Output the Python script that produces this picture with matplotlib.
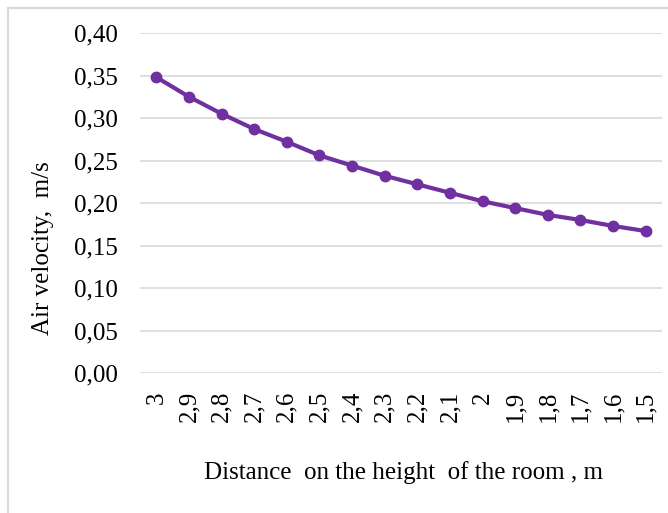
import matplotlib.pyplot as plt
from matplotlib.patches import Rectangle

# data
heights = ['3', '2,9', '2,8', '2,7', '2,6', '2,5', '2,4', '2,3', '2,2', '2,1', '2',
           '1,9', '1,8', '1,7', '1,6', '1,5']
velocity = [0.348, 0.325, 0.305, 0.287, 0.272, 0.256, 0.244, 0.232, 0.222, 0.212,
            0.202, 0.194, 0.186, 0.180, 0.173, 0.167]
yticks = [0.00, 0.05, 0.10, 0.15, 0.20, 0.25, 0.30, 0.35, 0.40]

plt.rcParams['font.family'] = ['Liberation Serif', 'DejaVu Serif']

fig = plt.figure(figsize=(6.68, 5.13), dpi=100)
ax = fig.add_axes([140 / 668, 1 - 373 / 513, 522 / 668, 340 / 513])

# outer chart border
fig.patches.append(Rectangle((8 / 668, -0.1), 1.2, 1 - 8 / 513 + 0.1, transform=fig.transFigure,
                             fill=False, edgecolor='#d9d9d9', lw=1.5))

x = range(len(heights))
ax.plot(x, velocity, color='#7030A0', lw=3, marker='o', ms=7.5, zorder=3)

ax.set_xlim(-0.5, len(heights) - 0.5)
ax.set_ylim(0, 0.40)
ax.set_yticks(yticks)
ax.set_yticklabels([('%.2f' % v).replace('.', ',') for v in yticks], fontsize=18)
ax.set_xticks(list(x))
ax.set_xticklabels(heights, rotation=90, fontsize=18)
ax.tick_params(axis='x', length=0, pad=13)
ax.tick_params(axis='y', length=0, pad=16)
ax.grid(axis='y', color='#d9d9d9', lw=1.2)
ax.set_axisbelow(True)
for s in ax.spines.values():
    s.set_visible(False)

fig.text(43 / 668, 1 - 248 / 513, 'Air velocity,  m/s', rotation=90, ha='center', va='center', fontsize=18)
fig.text(404 / 668, 1 - 473 / 513, 'Distance  on the height  of the room , m', ha='center', va='center', fontsize=18)

fig.savefig('out.png', dpi=100)
